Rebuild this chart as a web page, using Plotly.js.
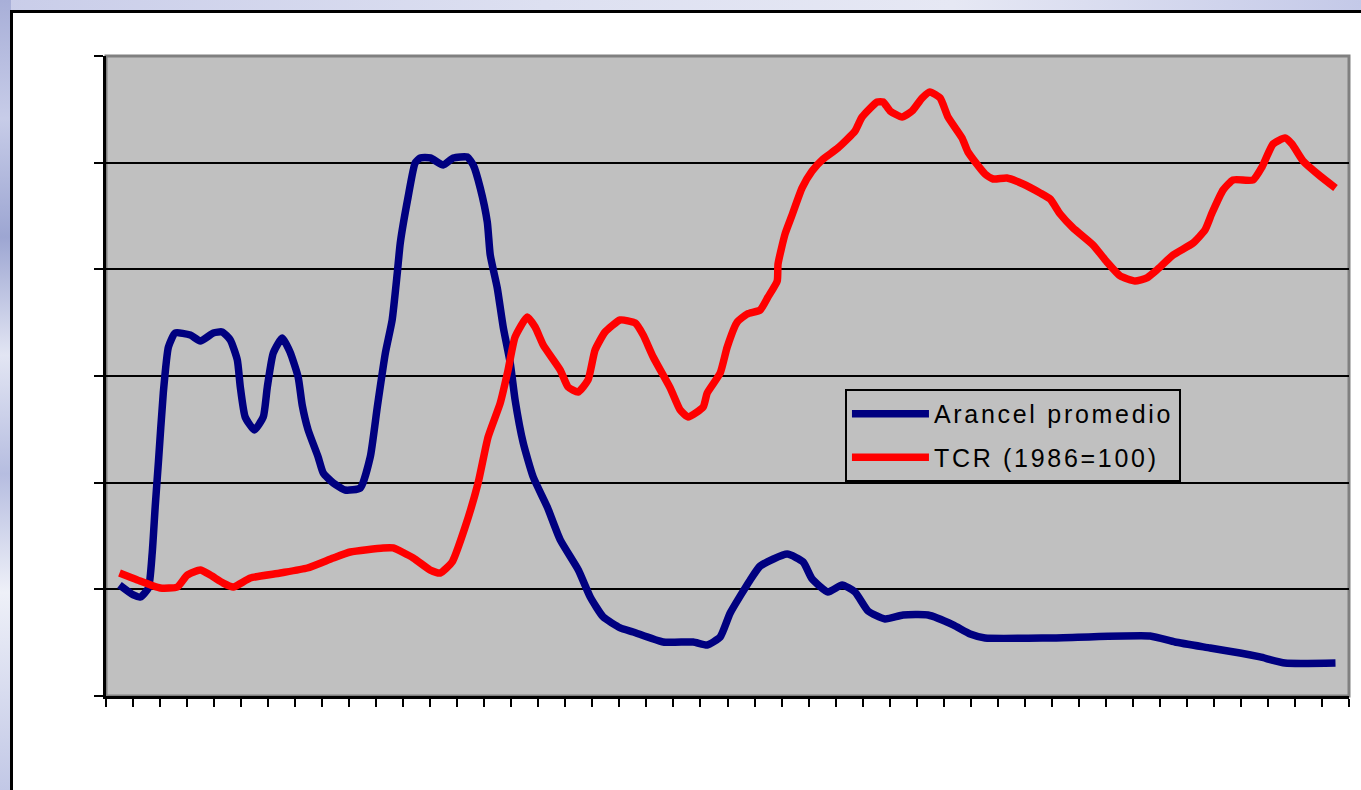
<!DOCTYPE html>
<html>
<head>
<meta charset="utf-8">
<script src="https://cdn.plot.ly/plotly-3.0.1.min.js"></script>
<style>
  html, body { margin:0; padding:0; width:1361px; height:790px; overflow:hidden; }
  body {
    background: linear-gradient(to right, #c9cde9 0%, #dde0f1 40%, #e6e8f4 70%, #c4c9e8 100%);
  }
  #leftstrip {
    position:absolute; left:0; top:0; width:11px; height:790px;
    background: linear-gradient(to bottom, #a8afd8 0%, #c7cce8 15%, #9da6d2 30%, #e2e5f3 45%, #b6bde0 60%, #eef0f8 75%, #c2c8e6 100%);
  }
  #frame {
    position:absolute; left:10px; top:10px; width:1400px; height:820px;
    background:#ffffff; border-left:3px solid #000; border-top:3px solid #000;
  }
  #chart { position:absolute; left:0; top:0; width:1361px; height:790px; }
  .legendtext { letter-spacing: 2.7px; }
</style>
</head>
<body>
<div id="leftstrip"></div>
<div id="frame"></div>
<div id="chart"></div>
<script>
// Period index (46 tick intervals, fractional positions)
const arancelX = [0,0.51,0.77,1.07,1.21,1.32,1.44,1.62,1.81,2.06,2.62,2.99,3.47,3.80,4.10,4.36,4.47,4.65,4.99,5.32,5.47,5.69,6.02,6.31,6.61,6.76,6.98,7.35,7.54,7.91,8.35,8.91,9.28,9.54,9.84,10.09,10.28,10.39,10.68,10.94,11.13,11.50,11.98,12.35,12.87,13.09,13.35,13.61,13.72,13.98,14.20,14.46,14.64,14.94,15.31,15.83,16.31,16.98,17.42,17.90,18.53,19.01,20.12,21.23,21.75,22.23,22.60,23.34,23.71,24.71,25.30,25.63,26.22,26.74,27.22,27.70,28.33,29.00,29.92,30.85,31.48,32.03,34.44,38.14,39.06,40.36,41.47,42.21,43.13,45];
const arancelY = [10.4,9.47,9.28,10.13,13.41,17.72,21.94,28.41,32.72,34.03,33.84,33.28,34.03,34.13,33.38,31.5,28.97,26.16,24.94,26.16,28.97,32.16,33.56,32.25,29.91,27.28,24.94,22.41,20.91,19.97,19.31,19.5,22.41,27.09,32.16,35.25,39.66,42.47,46.78,49.97,50.44,50.44,49.78,50.44,50.53,49.78,47.63,44.44,41.34,38.25,34.59,31.22,27.75,23.72,20.53,17.72,14.63,11.81,9.28,7.41,6.38,6.0,5.06,5.06,4.78,5.53,7.78,10.88,12.19,13.31,12.56,10.97,9.75,10.41,9.75,7.97,7.22,7.59,7.59,6.66,5.81,5.44,5.44,5.63,5.06,4.5,4.03,3.66,3.09,3.09];

const tcrX = [0,0.66,1.51,2.14,2.51,2.99,3.36,3.84,4.21,4.84,5.95,6.95,7.91,8.54,9.76,10.13,10.87,11.50,11.87,12.31,12.79,13.27,13.64,14.09,14.38,14.64,15.09,15.38,15.68,16.31,16.60,16.97,17.34,17.60,17.97,18.53,19.08,19.38,19.75,20.38,20.75,21.04,21.60,21.75,22.23,22.49,22.86,23.23,23.71,24.0,24.34,24.37,24.63,24.89,25.26,25.63,26.04,26.59,27.22,27.48,28.04,28.26,28.52,28.96,29.33,29.70,29.99,30.37,30.66,31.18,31.40,32.03,32.33,32.84,33.44,34.07,34.44,34.81,35.29,36.03,36.54,37.03,37.58,38.02,38.39,38.99,39.73,40.17,40.43,40.84,41.21,41.95,42.28,42.69,43.13,43.39,43.80,44.43,45];
const tcrY = [11.53,10.88,10.13,10.22,11.34,11.81,11.34,10.59,10.22,11.06,11.53,12.0,12.94,13.5,13.88,13.88,12.94,11.81,11.53,12.56,15.84,19.97,24.28,27.47,30.56,33.66,35.53,34.59,32.91,30.56,28.97,28.5,29.63,32.44,34.13,35.25,34.97,33.84,31.78,28.88,26.81,26.16,27.09,28.41,30.28,32.72,35.06,35.81,36.19,37.41,38.91,40.5,43.31,45.09,47.63,49.22,50.34,51.38,52.97,54.28,55.69,55.69,54.84,54.28,54.84,56.06,56.63,56.06,54.28,52.31,51.0,48.94,48.47,48.56,48.0,47.16,46.59,45.19,43.88,42.28,40.69,39.38,38.91,39.19,39.94,41.34,42.47,43.69,45.28,47.44,48.38,48.38,49.59,51.75,52.31,51.75,50.16,48.75,47.63];

const seriesNames = ['Arancel promedio', 'TCR (1986=100)'];
const nCategories = 46;
const yTicks = [0,10,20,30,40,50,60];

const xTicks = [];
for (let i = 0; i <= nCategories; i++) xTicks.push(i - 0.5);

const traces = [
  { x: arancelX, y: arancelY, name: seriesNames[0], type: 'scatter', mode: 'lines',
    line: { color: '#000080', width: 7.5, shape: 'spline', smoothing: 0.5 }, legendgroup: 'a' },
  { x: tcrX, y: tcrY, name: seriesNames[1], type: 'scatter', mode: 'lines',
    line: { color: '#ff0000', width: 7.5, shape: 'spline', smoothing: 0.5 }, legendgroup: 'b' }
];

const layout = {
  width: 1361, height: 790,
  margin: { l: 106, r: 12, t: 56, b: 94, pad: 0 },
  paper_bgcolor: 'rgba(0,0,0,0)',
  plot_bgcolor: '#c0c0c0',
  showlegend: true,
  legend: {
    x: 0.5945, y: 0.4797, xanchor: 'left', yanchor: 'top',
    bgcolor: '#c0c0c0', bordercolor: '#000', borderwidth: 2,
    font: { family: 'Liberation Sans, Arial, sans-serif', size: 25, color: '#000' },
    tracegroupgap: 8, itemwidth: 77
  },
  xaxis: {
    range: [-0.5, nCategories - 0.5], tickmode: 'array', tickvals: xTicks,
    showticklabels: false, showgrid: false, zeroline: false,
    ticks: 'outside', ticklen: 8, tickwidth: 2, tickcolor: '#000',
    showline: true, linecolor: '#000', linewidth: 3, fixedrange: true
  },
  yaxis: {
    range: [0, 60], tickmode: 'array', tickvals: yTicks,
    showticklabels: false, showgrid: true, gridcolor: '#000', gridwidth: 2,
    zeroline: false, ticks: 'outside', ticklen: 9, tickwidth: 2, tickcolor: '#000',
    showline: true, linecolor: '#000', linewidth: 3, fixedrange: true
  },
  shapes: [
    { type: 'rect', xref: 'paper', yref: 'paper', x0: 0, x1: 1, y0: 0, y1: 1,
      line: { color: '#808080', width: 3 }, layer: 'below' }
  ]
};

Plotly.newPlot('chart', traces, layout, { staticPlot: true, displayModeBar: false });
</script>
</body>
</html>
